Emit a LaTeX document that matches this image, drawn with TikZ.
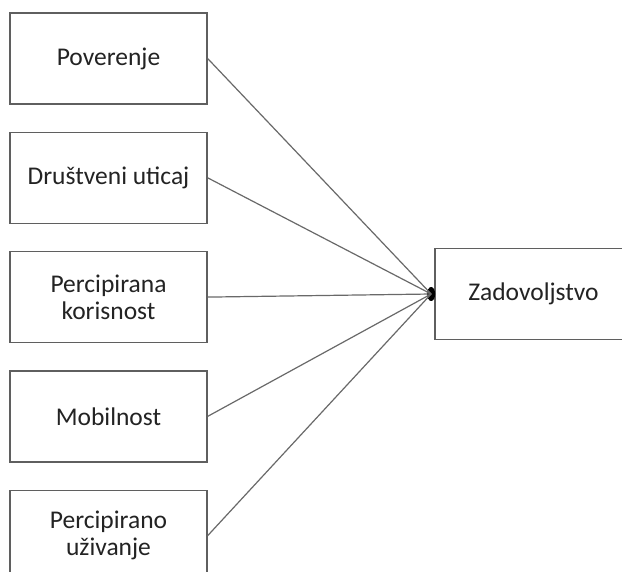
\documentclass[tikz,border=0pt]{standalone}
\usepackage{fontspec}
\setmainfont{Carlito}
\usetikzlibrary{positioning,shapes.geometric}
\definecolor{boxgray}{RGB}{95,95,95}
\definecolor{linegray}{RGB}{105,105,105}
\definecolor{textgray}{RGB}{35,35,35}
\tikzset{
  factorbox/.style={draw=boxgray,line width=1.3pt,minimum width=197pt,minimum height=91pt,
                    inner sep=0pt,align=center,text=textgray,
                    font=\fontsize{25.5}{27}\selectfont},
  link/.style={draw=linegray,line width=1.2pt}
}
\begin{document}
\begin{tikzpicture}[x=1pt,y=-1pt]
  \useasboundingbox[fill=white] (0,0) rectangle (622,572);
  \clip (0,0) rectangle (622,572);
  % left column
  \node[factorbox] (trust) at (108.5,58.5) {Poverenje};
  \node[factorbox,below=27pt of trust] (social) {Društveni uticaj};
  \node[factorbox,below=27pt of social] (useful) {Percipirana\\korisnost};
  \node[factorbox,below=27pt of useful] (mobile) {Mobilnost};
  \node[factorbox,below=27pt of mobile] (enjoy) {Percipirano\\uživanje};
  % outcome
  \node[factorbox] (satisf) at (533.5,294) {Zadovoljstvo};
  \node[ellipse,fill=black,minimum width=8pt,minimum height=14pt,inner sep=0pt,
        left=-1pt of satisf.west] (hub) {};
  % connectors
  \foreach \src in {trust,social,useful,mobile,enjoy}
    \draw[link] (\src.east) -- (hub.center);
\end{tikzpicture}
\end{document}
